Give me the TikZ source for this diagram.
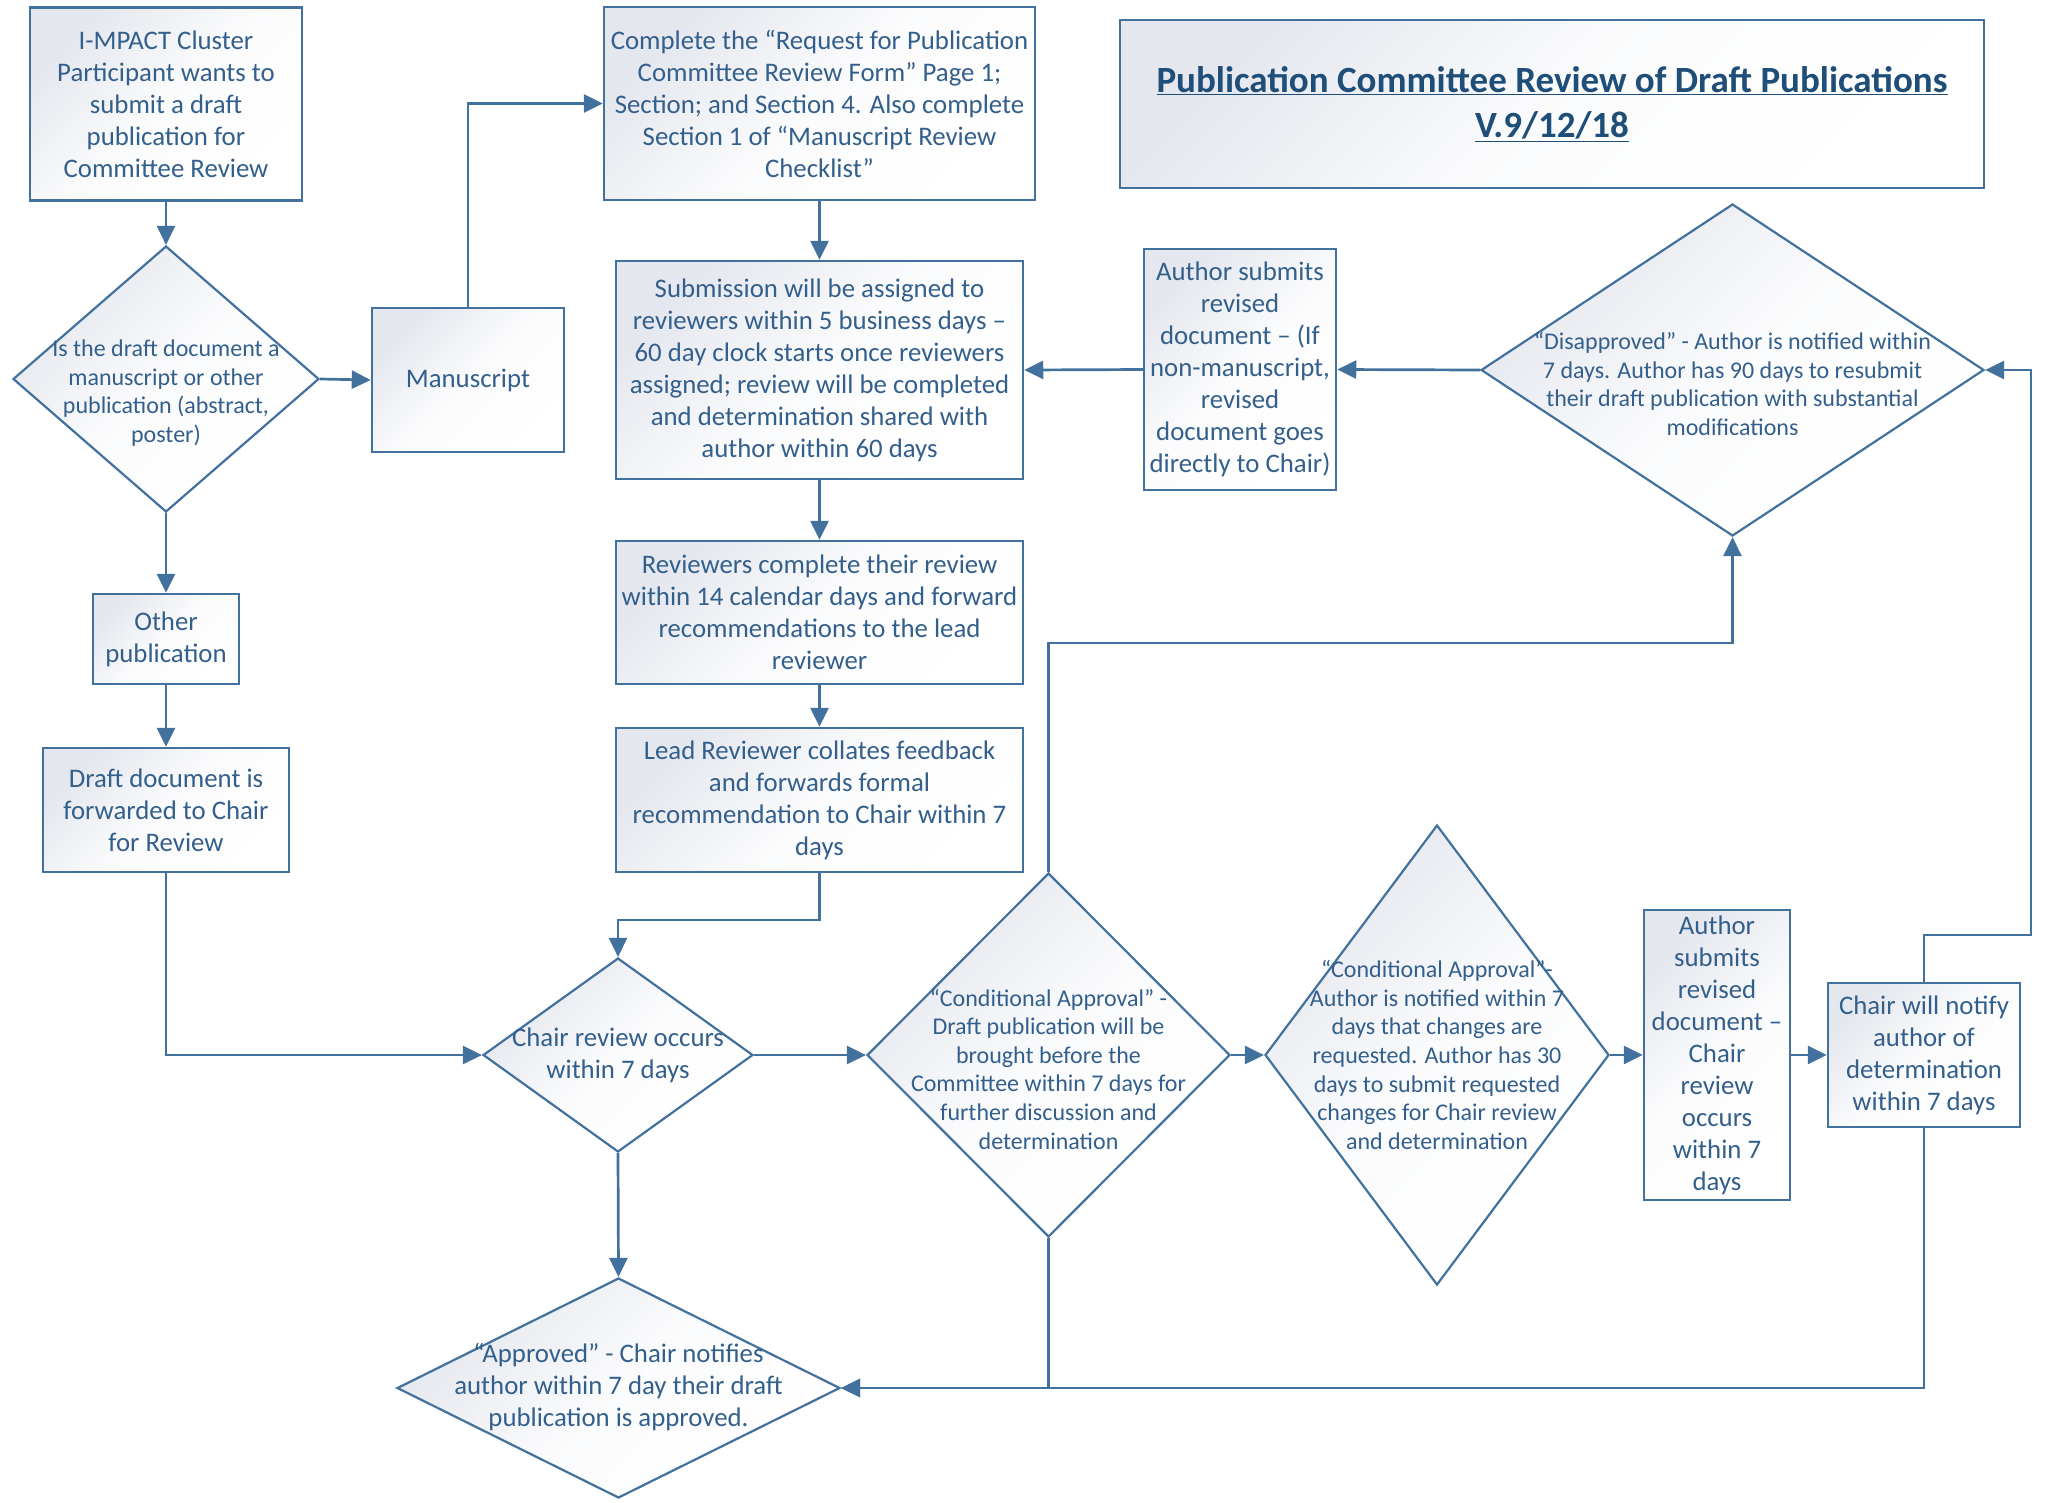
\documentclass[tikz,border=0pt]{standalone}
\usepackage{fontspec}
\setmainfont{Carlito}
\usetikzlibrary{arrows.meta,shapes.geometric}
\definecolor{ln}{HTML}{41719C}
\definecolor{tx}{HTML}{335F8C}
\definecolor{ttl}{HTML}{1F4E79}
\definecolor{shd}{HTML}{E4E7EE}
\begin{document}
\begin{tikzpicture}[x=1pt,y=-1pt,
  bx/.style={draw=ln, line width=2.5pt, top color=shd, bottom color=white, middle color=shd!15!white, shading angle=45,
    inner sep=0pt, text=tx, align=center, font=\fontsize{26.8}{32}\selectfont},
  dm/.style={shape=diamond, draw=ln, line width=2.2pt, top color=shd, bottom color=white, middle color=shd!15!white, shading angle=45,
    inner sep=0pt},
  tb/.style={text=tx, align=center, font=\fontsize{26.8}{32}\selectfont, inner sep=0pt},
  ts/.style={text=tx, align=center, font=\fontsize{24}{28.6}\selectfont, inner sep=0pt},
  arr/.style={draw=ln, line width=2.7pt, -{Triangle[length=19pt,width=18pt]}}
]
\useasboundingbox (0,0) rectangle (2049,1502);

% boxes
\node[bx, minimum width=272pt, minimum height=193pt] (b1) at (166,104)
  {I-MPACT Cluster\\Participant wants to\\submit a draft\\publication for\\Committee Review};
\node[bx, minimum width=192pt, minimum height=144pt] (man) at (468,380) {Manuscript};
\node[bx, minimum width=431pt, minimum height=193pt] (b2) at (819.5,103.5)
  {Complete the “Request for Publication\\Committee Review Form” Page 1;\\Section; and Section 4. Also complete\\Section 1 of “Manuscript Review\\Checklist”};
\node[bx, minimum width=407pt, minimum height=218pt] (b3) at (819.5,370)
  {Submission will be assigned to\\reviewers within 5 business days –\\60 day clock starts once reviewers\\assigned; review will be completed\\and determination shared with\\author within 60 days};
\node[bx, minimum width=407pt, minimum height=143pt] (b4) at (819.5,612.5)
  {Reviewers complete their review\\within 14 calendar days and forward\\recommendations to the lead\\reviewer};
\node[bx, minimum width=407pt, minimum height=144pt] (b5) at (819.5,800)
  {Lead Reviewer collates feedback\\and forwards formal\\recommendation to Chair within 7\\days};
\node[bx, minimum width=146pt, minimum height=90pt] (op) at (166,639) {Other\\publication};
\node[bx, minimum width=246pt, minimum height=124pt] (dd) at (166,810)
  {Draft document is\\forwarded to Chair\\for Review};
\node[bx, minimum width=146pt, minimum height=290pt] (as2) at (1717,1055)
  {Author\\submits\\revised\\document –\\Chair\\review\\occurs\\within 7\\days};
\node[bx, minimum width=192pt, minimum height=144pt] (nt) at (1924,1055)
  {Chair will notify\\author of\\determination\\within 7 days};
\node[bx, minimum width=192pt, minimum height=241pt] (as1) at (1240,369.5)
  {Author submits\\revised\\document – (If\\non-manuscript,\\revised\\document goes\\directly to Chair)};
\node[bx, minimum width=864pt, minimum height=168pt, text=ttl,
  font=\bfseries\fontsize{37}{45}\selectfont] (title) at (1552,104)
  {\underline{Publication Committee Review of Draft Publications}\\\underline{V.9/12/18}};

% diamonds
\node[dm, minimum width=306pt, minimum height=266pt] (d1) at (166,379) {};
\node[ts] (d1t) at (166,393) {Is the draft document a\\manuscript or other\\publication (abstract,\\poster)};
\node[dm, minimum width=270pt, minimum height=194pt] (ch) at (618,1055) {};
\node[tb] (cht) at (618,1055) {Chair review occurs\\within 7 days};
\node[dm, minimum width=443pt, minimum height=220pt] (ap) at (618.5,1388) {};
\node[tb] (apt) at (618.5,1387) {“Approved” - Chair notifies\\author within 7 day their draft\\publication is approved.};
\node[dm, minimum width=363pt, minimum height=364pt] (ca1) at (1048.5,1055) {};
\node[ts] (ca1t) at (1048.5,1069) {“Conditional Approval” -\\Draft publication will be\\brought before the\\Committee within 7 days for\\further discussion and\\determination};
\node[dm, minimum width=344pt, minimum height=460pt] (ca2) at (1437,1055) {};
\node[ts] (ca2t) at (1437,1055) {“Conditional Approval”-\\Author is notified within 7\\days that changes are\\requested. Author has 30\\days to submit requested\\changes for Chair review\\and determination};
\node[dm, minimum width=503pt, minimum height=332pt] (dis) at (1732.5,370) {};
\node[ts] (dist) at (1732.5,384) {“Disapproved” - Author is notified within\\7 days. Author has 90 days to resubmit\\their draft publication with substantial\\modifications};

% connectors
\draw[arr] (b1.south) -- (d1.north);
\draw[arr] (d1.east) -- (man.west);
\draw[arr] (man.north) |- (b2.west);
\draw[arr] (d1.south) -- (op.north);
\draw[arr] (op.south) -- (dd.north);
\draw[arr] (dd.south) |- (ch.west);
\draw[arr] (b2.south) -- (b3.north);
\draw[arr] (b3.south) -- (b4.north);
\draw[arr] (b4.south) -- (b5.north);
\draw[arr] (b5.south) -- (b5.south |- 0,920) -| (ch.north);
\draw[arr] (ch.east) -- (ca1.west);
\draw[arr] (ch.south) -- (ap.north);
\draw[arr] (ca1.north) -- (ca1.north |- 0,643) -| (dis.south);
\draw[arr] (dis.west) -- (as1.east);
\draw[arr] (as1.west) -- (b3.east);
\draw[arr] (ca1.east) -- (ca2.west);
\draw[arr] (ca2.east) -- (as2.west);
\draw[arr] (as2.east) -- (nt.west);
\draw[arr] (nt.north) -- (nt.north |- 0,935) -- (2031,935) |- (dis.east);
\draw[arr] (nt.south) |- (ap.east);
\draw[arr] (ca1.south) |- (ap.east);
\end{tikzpicture}
\end{document}
